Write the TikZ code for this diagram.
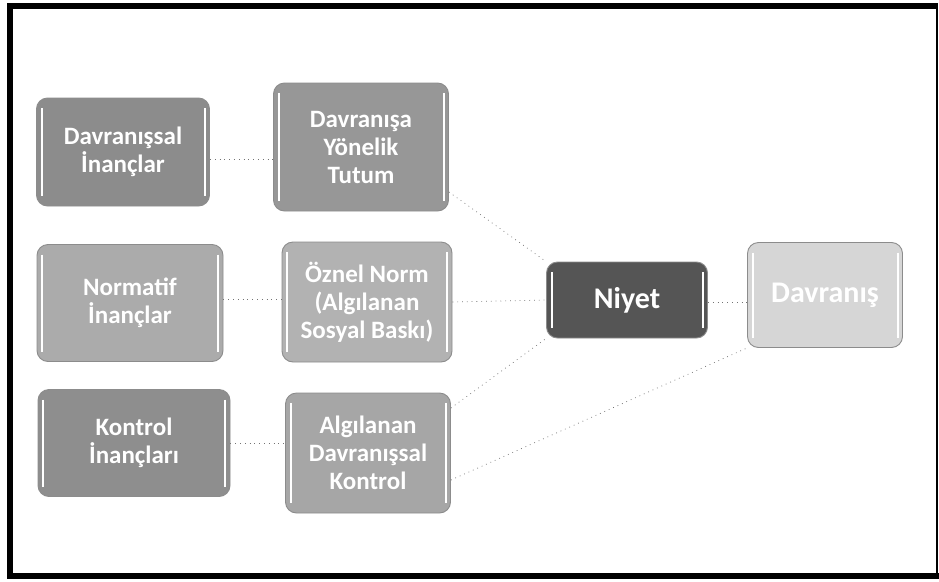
\documentclass[tikz,border=0pt]{standalone}
\usepackage{fontspec}
\newfontfamily\boxfont{Carlito}
\definecolor{gA}{HTML}{8C8C8C}
\definecolor{gB}{HTML}{979797}
\definecolor{gC}{HTML}{ABABAB}
\definecolor{gD}{HTML}{B2B2B2}
\definecolor{gE}{HTML}{8E8E8E}
\definecolor{gF}{HTML}{A6A6A6}
\definecolor{gN}{HTML}{555555}
\definecolor{gV}{HTML}{D6D6D6}
\tikzset{
  box/.style={draw=black!45, line width=0.9pt, rounded corners=11pt, inner sep=0pt,
    align=center, text=white, font=\boxfont\bfseries\fontsize{25}{28}\selectfont,
    path picture={
      \draw[white, line width=2pt]
        ([xshift=5pt,yshift=-10pt]path picture bounding box.north west) --
        ([xshift=5pt,yshift=10pt]path picture bounding box.south west);
      \draw[white, line width=2pt]
        ([xshift=-5pt,yshift=-10pt]path picture bounding box.north east) --
        ([xshift=-5pt,yshift=10pt]path picture bounding box.south east);
    }},
  bigbox/.style={box, font=\boxfont\bfseries\fontsize{30}{34}\selectfont},
  conn/.style={draw=black!55, line width=0.7pt, dash pattern=on 0.8pt off 4pt},
}
\begin{document}
\begin{tikzpicture}[x=1pt, y=-1pt]
\useasboundingbox (0,0) rectangle (939,581);
% frame
\draw[line width=6pt] (10,3) -- (10,578);
\draw[line width=6pt] (7,6) -- (938,6);
\draw[line width=6pt] (7,576) -- (939,576);
\draw[line width=2pt] (937,6) -- (937,576);
% nodes
\node[box, fill=gA, minimum width=173pt, minimum height=108pt] (di)  at (123,152) {Davranışsal\\İnançlar};
\node[box, fill=gB, minimum width=175pt, minimum height=128pt] (tt)  at (361,147) {Davranışa\\Yönelik\\Tutum};
\node[box, fill=gC, minimum width=186pt, minimum height=117pt] (no)  at (130,303) {Normatif\\İnançlar};
\node[box, fill=gD, minimum width=170pt, minimum height=120pt] (oz)  at (367,302) {Öznel Norm\\(Algılanan\\Sosyal Baskı)};
\node[box, fill=gE, minimum width=192pt, minimum height=107pt] (ko)  at (134,443) {Kontrol\\İnançları};
\node[box, fill=gF, minimum width=165pt, minimum height=120pt] (adk) at (368,453) {Algılanan\\Davranışsal\\Kontrol};
\node[bigbox, fill=gN, minimum width=161pt, minimum height=76pt] (ny) at (627,300) {Niyet};
\node[bigbox, fill=gV, minimum width=155pt, minimum height=105pt] (dv) at (825,295) {Davranış};
% connectors
\draw[conn] ([yshift=-7pt]di.east) -- ([yshift=-7pt]di.east -| tt.west);
\draw[conn] ([yshift=4pt]no.east) -- ([yshift=4pt]no.east -| oz.west);
\draw[conn] ([yshift=0pt]ko.east) -- ([yshift=0pt]ko.east -| adk.west);
\draw[conn] ([yshift=-2pt]ny.east) -- ([yshift=-2pt]ny.east -| dv.west);
\draw[conn] ([yshift=-45pt]tt.east) -- (ny.north west);
\draw[conn] (oz.east) -- (ny.west);
\draw[conn] ([yshift=45pt]adk.east) -- (ny.south west);
\draw[conn] ([yshift=-27pt]adk.east) -- (dv.south west);
\end{tikzpicture}
\end{document}
